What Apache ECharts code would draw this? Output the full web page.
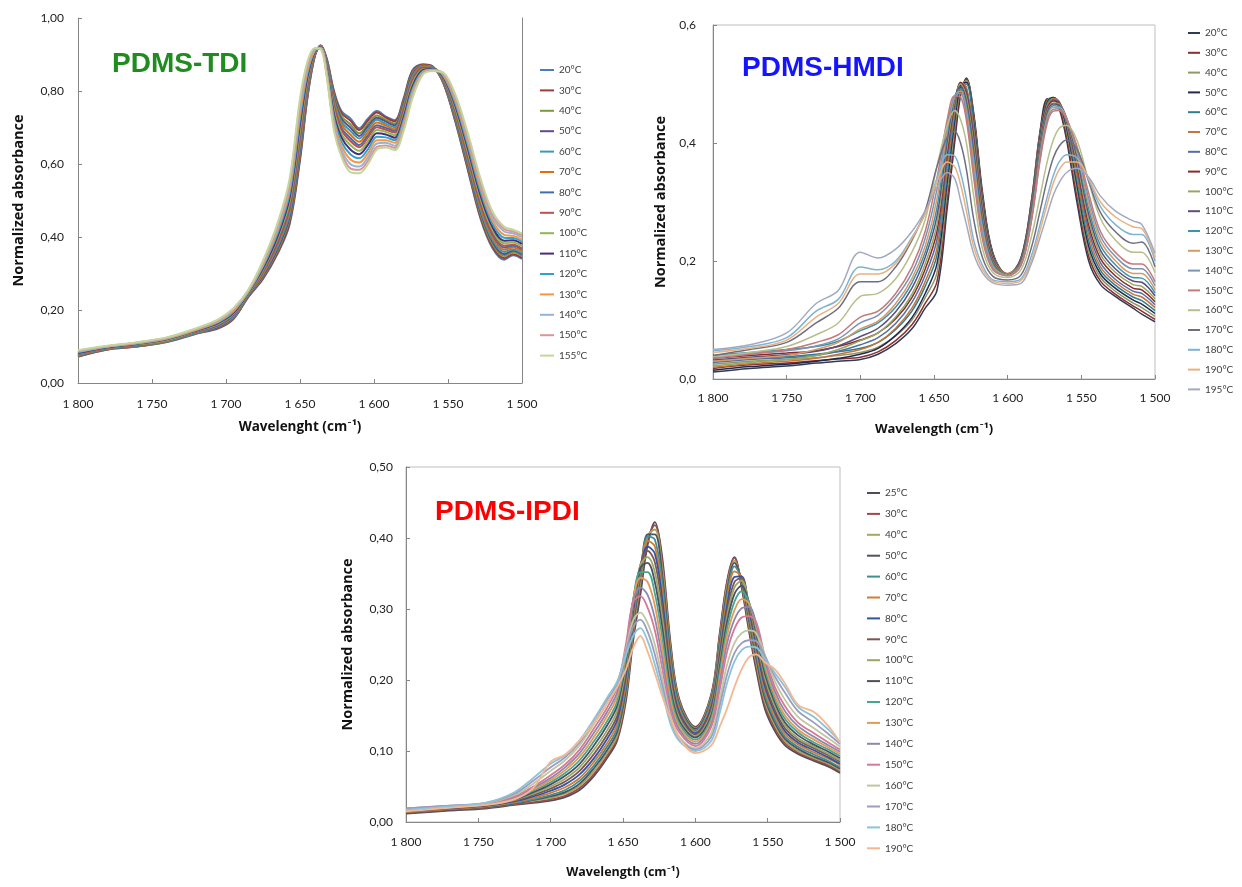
<!DOCTYPE html>
<html><head><meta charset="utf-8">
<script src="https://cdn.jsdelivr.net/npm/echarts@6/dist/echarts.min.js"></script>
<style>html,body{margin:0;padding:0;background:#fff}#c{width:1242px;height:887px}</style>
</head><body><div id="c"></div>
<script>
// ---------- PDMS-TDI ----------
const X_TDI = [1800,1780,1760,1740,1720,1705,1695,1685,1675,1665,1657,1650,1645,1640,1636,1632,1627,1622,1616,1610,1604,1598,1592,1586,1580,1574,1567,1560,1553,1545,1537,1528,1520,1512,1506,1500];
const TDI_LABELS = ['20°C','30°C','40°C','50°C','60°C','70°C','80°C','90°C','100°C','110°C','120°C','130°C','140°C','150°C','155°C'];
const TDI_COLORS = ['#4A7EBB','#A03B39','#7A9A3C','#5F4B8B','#3B9AB2','#E46C0A','#3D6EB3','#C0504D','#8DB753','#4B2D7F','#2FA4C8','#F79646','#95B3D7','#D99694','#C3D69B'];
const tdi20 = [.072,.092,.100,.112,.135,.150,.175,.235,.285,.355,.435,.610,.780,.895,.925,.890,.800,.745,.725,.698,.725,.745,.730,.720,.780,.857,.873,.866,.820,.715,.590,.450,.370,.338,.350,.340];
const tdi30 = [.073,.092,.100,.113,.136,.151,.176,.236,.287,.358,.440,.617,.784,.896,.925,.888,.796,.740,.719,.693,.720,.741,.727,.717,.776,.854,.872,.866,.821,.718,.594,.454,.374,.342,.353,.343];
const tdi40 = [.074,.093,.101,.113,.137,.153,.178,.237,.291,.364,.449,.629,.791,.898,.924,.885,.788,.731,.709,.684,.711,.733,.721,.711,.770,.849,.870,.865,.823,.723,.601,.462,.381,.348,.358,.348];
const tdi50 = [.075,.094,.102,.114,.138,.154,.180,.238,.294,.369,.456,.639,.797,.899,.923,.882,.781,.724,.700,.677,.704,.727,.716,.706,.765,.844,.868,.864,.825,.728,.607,.469,.387,.353,.362,.352];
const tdi60 = [.076,.094,.103,.115,.138,.156,.182,.240,.297,.375,.464,.649,.803,.900,.923,.879,.775,.716,.691,.670,.696,.721,.710,.701,.759,.839,.867,.863,.827,.732,.613,.475,.393,.359,.366,.356];
const tdi70 = [.077,.095,.104,.116,.140,.158,.184,.241,.300,.381,.473,.661,.810,.902,.922,.875,.767,.708,.681,.661,.688,.714,.705,.695,.753,.834,.865,.863,.829,.738,.620,.483,.400,.365,.371,.361];
const tdi80 = [.079,.096,.104,.117,.141,.159,.186,.242,.304,.386,.481,.673,.817,.904,.921,.872,.759,.699,.671,.652,.679,.706,.699,.690,.747,.829,.863,.862,.831,.743,.627,.491,.407,.371,.376,.366];
const tdi90 = [.080,.096,.105,.117,.141,.161,.188,.243,.306,.391,.488,.681,.822,.905,.921,.869,.754,.693,.663,.646,.673,.701,.694,.686,.742,.825,.861,.861,.833,.747,.632,.496,.412,.376,.379,.369];
const tdi100 = [.081,.097,.106,.118,.143,.163,.190,.245,.310,.398,.498,.695,.830,.907,.920,.865,.745,.683,.652,.636,.663,.693,.688,.679,.735,.819,.859,.860,.835,.753,.640,.505,.420,.383,.385,.375];
const tdi110 = [.082,.098,.107,.120,.144,.165,.192,.247,.314,.404,.508,.709,.838,.908,.919,.861,.736,.673,.640,.627,.653,.684,.681,.672,.728,.812,.857,.860,.837,.759,.648,.514,.428,.390,.391,.381];
const tdi120 = [.084,.099,.108,.121,.145,.167,.195,.248,.319,.412,.519,.724,.847,.910,.918,.857,.726,.661,.627,.616,.641,.675,.673,.665,.720,.805,.854,.859,.840,.765,.657,.524,.437,.398,.397,.387];
const tdi130 = [.086,.100,.109,.122,.146,.169,.198,.250,.323,.420,.530,.739,.856,.912,.917,.852,.716,.650,.613,.604,.630,.665,.665,.658,.712,.798,.852,.858,.843,.772,.666,.534,.446,.406,.403,.393];
const tdi140 = [.087,.100,.110,.123,.148,.171,.201,.252,.328,.427,.541,.755,.865,.915,.917,.848,.707,.639,.600,.593,.619,.656,.658,.650,.704,.792,.849,.857,.846,.779,.675,.544,.455,.415,.410,.400];
const tdi150 = [.089,.101,.111,.124,.149,.173,.203,.254,.332,.434,.551,.768,.873,.916,.916,.844,.698,.629,.588,.584,.609,.647,.651,.644,.696,.785,.847,.856,.848,.785,.683,.552,.463,.422,.415,.405];
const tdi155 = [.090,.102,.112,.125,.150,.175,.205,.255,.335,.440,.560,.780,.880,.918,.915,.840,.690,.620,.578,.575,.600,.640,.645,.638,.690,.780,.845,.855,.850,.790,.690,.560,.470,.428,.420,.410];
const TDI_Y = [tdi20,tdi30,tdi40,tdi50,tdi60,tdi70,tdi80,tdi90,tdi100,tdi110,tdi120,tdi130,tdi140,tdi150,tdi155];

// ---------- PDMS-HMDI ----------
const X_HMDI = [1800,1775,1750,1730,1715,1700,1688,1676,1665,1656,1648,1641,1636,1632,1628,1623,1617,1610,1600,1591,1584,1578,1573,1569,1565,1560,1553,1545,1537,1527,1515,1509,1500];
const HMDI_LABELS = ['20°C','30°C','40°C','50°C','60°C','70°C','80°C','90°C','100°C','110°C','120°C','130°C','140°C','150°C','160°C','170°C','180°C','190°C','195°C'];
const HMDI_COLORS = ['#2E3B55','#8B2E2E','#8D9968','#23284F','#2E7F8F','#C8733A','#4F6FA5','#8C2A2A','#96A860','#5D4F7A','#3C93AE','#D79A66','#7A93B5','#C47A7A','#B5BF8A','#6E6E80','#7DB3D3','#EBB07F','#A3AABF'];
const hm20 = [.012,.018,.022,.027,.030,.033,.042,.060,.085,.120,.150,.290,.400,.480,.510,.450,.315,.213,.176,.205,.300,.420,.475,.474,.458,.405,.300,.200,.160,.140,.120,.110,.097];
const hm30 = [.018,.024,.027,.031,.034,.037,.046,.065,.092,.128,.165,.305,.412,.486,.508,.446,.310,.212,.177,.204,.298,.418,.474,.476,.462,.412,.310,.208,.166,.144,.124,.115,.101];
const hm40 = [.025,.030,.033,.036,.040,.045,.054,.073,.100,.138,.180,.320,.424,.492,.506,.440,.305,.210,.178,.203,.295,.414,.472,.477,.466,.420,.320,.216,.172,.149,.129,.121,.106];
const hm50 = [.015,.021,.025,.030,.035,.042,.052,.074,.104,.145,.195,.335,.436,.497,.503,.434,.300,.208,.177,.202,.292,.410,.470,.477,.468,.426,.330,.225,.178,.154,.134,.127,.111];
const hm60 = [.030,.035,.038,.042,.046,.052,.062,.084,.115,.157,.210,.348,.446,.500,.500,.428,.295,.206,.178,.201,.290,.406,.467,.476,.469,.431,.338,.234,.184,.159,.139,.133,.116];
const hm70 = [.020,.026,.030,.035,.042,.050,.062,.086,.120,.165,.222,.360,.455,.502,.495,.420,.290,.204,.179,.200,.287,.402,.464,.475,.470,.435,.346,.243,.190,.164,.144,.139,.121];
const hm80 = [.028,.033,.036,.040,.047,.058,.070,.094,.130,.176,.236,.372,.462,.503,.490,.412,.284,.202,.178,.199,.284,.398,.461,.473,.469,.438,.354,.252,.197,.169,.149,.145,.126];
const hm90 = [.035,.040,.044,.048,.055,.066,.078,.102,.138,.186,.250,.384,.468,.502,.484,.404,.278,.200,.177,.198,.281,.394,.458,.471,.468,.440,.362,.261,.204,.175,.154,.151,.131];
const hm100 = [.022,.028,.033,.040,.050,.065,.078,.105,.144,.195,.262,.395,.472,.500,.478,.395,.272,.198,.178,.197,.278,.390,.455,.468,.466,.441,.369,.270,.211,.181,.160,.157,.136];
const hm110 = [.032,.037,.041,.047,.056,.072,.086,.114,.154,.206,.276,.405,.476,.496,.470,.385,.266,.196,.177,.196,.276,.386,.452,.466,.464,.442,.376,.279,.218,.187,.166,.164,.141];
const hm120 = [.040,.045,.050,.055,.064,.082,.095,.122,.163,.215,.290,.415,.478,.492,.462,.375,.260,.194,.176,.195,.273,.382,.448,.463,.462,.442,.382,.288,.226,.194,.172,.171,.146];
const hm130 = [.030,.035,.040,.050,.062,.085,.098,.128,.170,.225,.305,.424,.479,.488,.454,.365,.252,.191,.176,.194,.270,.378,.444,.460,.460,.442,.387,.297,.234,.201,.179,.179,.151];
const hm140 = [.038,.043,.048,.056,.068,.095,.108,.138,.180,.238,.322,.432,.480,.484,.446,.352,.244,.188,.175,.193,.268,.374,.440,.457,.458,.441,.391,.306,.242,.208,.187,.187,.158];
const hm150 = [.035,.042,.050,.062,.075,.105,.115,.145,.190,.250,.340,.440,.480,.478,.438,.340,.235,.185,.175,.192,.265,.370,.435,.454,.455,.440,.395,.315,.250,.215,.195,.195,.165];
const hm160 = [.038,.045,.055,.075,.095,.140,.145,.170,.215,.270,.360,.430,.455,.440,.400,.310,.220,.180,.172,.185,.240,.310,.370,.405,.425,.430,.405,.335,.272,.236,.215,.215,.180];
const hm170 = [.040,.050,.062,.095,.120,.165,.165,.190,.235,.285,.360,.410,.420,.400,.355,.270,.205,.174,.168,.176,.222,.285,.340,.375,.395,.405,.390,.335,.282,.250,.230,.232,.190];
const hm180 = [.048,.055,.070,.115,.135,.190,.185,.200,.240,.280,.340,.380,.378,.350,.305,.235,.192,.168,.165,.170,.208,.262,.310,.345,.368,.380,.375,.338,.292,.262,.245,.245,.200];
const hm190 = [.045,.052,.066,.105,.128,.178,.178,.196,.238,.280,.335,.368,.360,.330,.285,.224,.186,.166,.162,.167,.200,.252,.298,.332,.355,.368,.368,.340,.300,.275,.258,.255,.206];
const hm195 = [.050,.058,.078,.128,.150,.215,.205,.220,.250,.285,.325,.350,.340,.303,.262,.212,.180,.163,.159,.162,.195,.240,.280,.312,.333,.350,.357,.342,.310,.285,.268,.262,.213];
const HMDI_Y = [hm20,hm30,hm40,hm50,hm60,hm70,hm80,hm90,hm100,hm110,hm120,hm130,hm140,hm150,hm160,hm170,hm180,hm190,hm195];

// ---------- PDMS-IPDI ----------
const X_IPDI = [1800,1770,1745,1725,1712,1700,1690,1680,1670,1661,1654,1648,1643,1638,1633,1628,1623,1617,1611,1600,1589,1583,1578,1573,1568,1563,1558,1552,1545,1538,1529,1518,1508,1500];
const IPDI_LABELS = ['25°C','30°C','40°C','50°C','60°C','70°C','80°C','90°C','100°C','110°C','120°C','130°C','140°C','150°C','160°C','170°C','180°C','190°C'];
const IPDI_COLORS = ['#4A4E5C','#A34848','#A4A85E','#4F5260','#3E8E96','#CF7E37','#3553A3','#7D5555','#97A866','#4E4E5E','#46A594','#E39A52','#8A8AAE','#D6789A','#BFC7A0','#9C9CC0','#8CC3D8','#F2B894'];
const ip25 = [.012,.016,.019,.024,.027,.030,.035,.045,.065,.090,.115,.170,.255,.320,.390,.4225,.375,.250,.172,.134,.180,.268,.340,.373,.330,.270,.215,.160,.128,.108,.096,.086,.078,.069];
const ip30 = [.013,.017,.020,.025,.028,.032,.037,.048,.068,.093,.118,.175,.262,.330,.398,.418,.368,.245,.170,.133,.178,.265,.338,.372,.333,.274,.220,.165,.132,.111,.098,.088,.080,.071];
const ip40 = [.014,.018,.021,.026,.030,.034,.040,.051,.072,.097,.122,.180,.268,.338,.403,.412,.360,.240,.168,.132,.176,.260,.333,.368,.338,.280,.226,.170,.136,.114,.100,.090,.082,.073];
const ip50 = [.013,.017,.021,.026,.031,.036,.042,.054,.076,.101,.127,.186,.275,.345,.405,.405,.350,.233,.165,.131,.173,.255,.327,.365,.340,.285,.232,.175,.140,.117,.103,.092,.084,.075];
const ip60 = [.015,.019,.022,.027,.032,.038,.045,.058,.080,.106,.132,.192,.282,.350,.402,.398,.340,.226,.162,.129,.170,.250,.320,.360,.343,.290,.238,.180,.144,.120,.106,.095,.086,.077];
const ip70 = [.014,.018,.022,.028,.034,.041,.049,.062,.085,.111,.138,.198,.290,.355,.396,.388,.328,.218,.158,.127,.166,.244,.313,.353,.345,.295,.244,.186,.149,.124,.109,.098,.089,.080];
const ip80 = [.016,.020,.023,.029,.036,.044,.053,.067,.090,.117,.144,.205,.296,.358,.388,.378,.316,.210,.154,.125,.162,.238,.305,.345,.346,.300,.250,.192,.154,.128,.112,.101,.091,.082];
const ip90 = [.015,.019,.023,.030,.038,.047,.057,.072,.096,.123,.150,.212,.302,.362,.382,.366,.303,.202,.150,.123,.158,.232,.298,.338,.344,.304,.256,.198,.158,.132,.115,.104,.094,.085];
const ip100 = [.017,.021,.024,.031,.040,.050,.061,.077,.102,.129,.157,.219,.307,.362,.373,.352,.290,.194,.146,.121,.154,.226,.290,.330,.340,.308,.262,.204,.163,.136,.118,.106,.096,.087];
const ip110 = [.016,.020,.024,.032,.042,.053,.065,.082,.108,.136,.164,.226,.310,.358,.365,.338,.276,.186,.142,.119,.150,.220,.282,.321,.333,.310,.267,.210,.168,.140,.122,.109,.099,.090];
const ip120 = [.018,.022,.025,.033,.044,.056,.069,.087,.114,.142,.170,.232,.312,.352,.352,.322,.262,.178,.138,.116,.146,.213,.273,.310,.325,.310,.272,.216,.173,.145,.126,.112,.102,.093];
const ip130 = [.017,.021,.025,.034,.046,.059,.073,.092,.120,.149,.177,.238,.313,.344,.338,.305,.247,.170,.134,.113,.142,.205,.263,.298,.314,.308,.276,.222,.178,.150,.130,.116,.105,.096];
const ip140 = [.019,.023,.026,.035,.048,.062,.077,.097,.126,.155,.183,.243,.312,.330,.320,.287,.232,.162,.130,.110,.138,.197,.252,.285,.301,.303,.280,.228,.184,.156,.135,.120,.108,.099];
const ip150 = [.018,.022,.026,.036,.050,.066,.081,.102,.132,.161,.190,.250,.310,.318,.302,.270,.218,.155,.126,.107,.134,.188,.240,.272,.288,.290,.282,.234,.190,.163,.140,.125,.112,.102];
const ip160 = [.016,.021,.026,.038,.054,.072,.087,.108,.138,.167,.193,.243,.284,.295,.280,.250,.204,.148,.120,.104,.126,.175,.222,.252,.266,.270,.266,.236,.198,.172,.148,.132,.118,.106];
const ip170 = [.019,.023,.027,.040,.058,.077,.091,.112,.142,.172,.196,.240,.275,.285,.268,.236,.194,.142,.117,.102,.120,.165,.208,.238,.252,.256,.255,.234,.205,.182,.156,.140,.124,.110];
const ip180 = [.017,.022,.027,.042,.062,.082,.094,.115,.145,.175,.198,.235,.262,.273,.255,.222,.185,.137,.114,.100,.114,.155,.196,.226,.242,.247,.246,.230,.210,.190,.162,.148,.130,.113];
const ip190 = [.015,.020,.024,.032,.048,.085,.095,.115,.140,.168,.190,.215,.245,.262,.240,.210,.178,.145,.118,.097,.108,.135,.160,.190,.215,.232,.236,.225,.215,.195,.165,.155,.135,.112];
const IPDI_Y = [ip25,ip30,ip40,ip50,ip60,ip70,ip80,ip90,ip100,ip110,ip120,ip130,ip140,ip150,ip160,ip170,ip180,ip190];

// ---------- build ----------
const FONT = 'Lato, "Open Sans", sans-serif';
const NAME_FONT = '"Open Sans", Lato, sans-serif';
function fmtWn(v){ return String(v).replace(/\B(?=(\d{3})+(?!\d))/g, ' '); }
function buildSeries(prefix, xs, ys, labels, colors, gi, width){
  return ys.map((arr, k) => ({
    type:'line', name: prefix + '|' + labels[k], xAxisIndex: gi, yAxisIndex: gi,
    data: xs.map((x, i) => [x, arr[i]]), symbol:'none', showSymbol:false, smooth:0.35,
    lineStyle:{width:width, color:colors[k]}, itemStyle:{color:colors[k]}, silent:true
  }));
}
const series = [].concat(
  buildSeries('TDI', X_TDI, TDI_Y, TDI_LABELS, TDI_COLORS, 0, 2),
  buildSeries('HMDI', X_HMDI, HMDI_Y, HMDI_LABELS, HMDI_COLORS, 1, 1.5),
  buildSeries('IPDI', X_IPDI, IPDI_Y, IPDI_LABELS, IPDI_COLORS, 2, 1.8)
);
function xAx(gi, margin, name, nameGap, nameSize){
  return {type:'value', gridIndex:gi, min:1500, max:1800, interval:50, inverse:true,
    axisLine:{show:true, lineStyle:{color:'#868686', width:1}},
    axisTick:{show:true, inside:true, length:4, lineStyle:{color:'#868686'}},
    splitLine:{show:false},
    axisLabel:{formatter:fmtWn, fontSize:12, color:'#222', fontFamily:FONT, margin:margin},
    name:name, nameLocation:'middle', nameGap:nameGap,
    nameTextStyle:{fontSize:nameSize, fontWeight:'bold', color:'#111', fontFamily:NAME_FONT}};
}
function yAx(gi, max, interval, dec, margin, nameGap){
  return {type:'value', gridIndex:gi, min:0, max:max, interval:interval,
    axisLine:{show:true, lineStyle:{color:'#868686', width:1}},
    axisTick:{show:true, inside:true, length:4, lineStyle:{color:'#868686'}},
    splitLine:{show:false},
    axisLabel:{formatter:v => v.toFixed(dec).replace('.', ','), fontSize:12, color:'#222', fontFamily:FONT, margin:margin},
    name:'Normalized absorbance', nameLocation:'middle', nameGap:nameGap,
    nameTextStyle:{fontSize:14.5, fontWeight:'bold', color:'#111', fontFamily:NAME_FONT}};
}
function legend(prefix, labels, left, top, iw, gap){
  return {data: labels.map(l => prefix + '|' + l), orient:'vertical', left:left, top:top, padding:0,
    itemWidth:iw, itemHeight:2, icon:'rect', itemGap:gap, selectedMode:false,
    formatter: n => n.split('|')[1],
    textStyle:{fontSize:10, color:'#404040', fontFamily:FONT, lineHeight:14}};
}
const TITLE_FONT = '"Liberation Sans", Arial, sans-serif';
const chart = echarts.init(document.getElementById('c'), null, {renderer:'canvas'});
chart.setOption({
  animation:false,
  backgroundColor:'#ffffff',
  title:[
    {text:'PDMS-TDI', left:107, top:45, textStyle:{fontSize:28, fontWeight:'bold', color:'#1E8C1E', fontFamily:TITLE_FONT}},
    {text:'PDMS-HMDI', left:737, top:49, textStyle:{fontSize:28, fontWeight:'bold', color:'#1414FF', fontFamily:TITLE_FONT}},
    {text:'PDMS-IPDI', left:430, top:493, textStyle:{fontSize:28, fontWeight:'bold', color:'#FF0000', fontFamily:TITLE_FONT}}
  ],
  grid:[
    {left:78, top:18, width:444, height:365, show:false},
    {left:713, top:25, width:442, height:354, show:true, borderColor:'#BFBFBF', borderWidth:1},
    {left:406, top:467, width:434, height:355, show:true, borderColor:'#BFBFBF', borderWidth:1}
  ],
  xAxis:[
    xAx(0, 15, 'Wavelenght (cm⁻¹)', 37, 13.5),
    xAx(1, 13, 'Wavelength (cm⁻¹)', 44, 13),
    xAx(2, 14, 'Wavelength (cm⁻¹)', 44, 12.5)
  ],
  yAxis:[
    yAx(0, 1, 0.2, 2, 14, 52),
    yAx(1, 0.6, 0.2, 1, 17, 45),
    yAx(2, 0.5, 0.1, 2, 13, 51),
    {type:'value', gridIndex:0, min:0, max:1, position:'right',
     axisLine:{show:true, lineStyle:{color:'#868686', width:1}}, axisTick:{show:false},
     axisLabel:{show:false}, splitLine:{show:false}}
  ],
  legend:[
    legend('TDI', TDI_LABELS, 540, 63, 14, 6.4),
    legend('HMDI', HMDI_LABELS, 1188, 26, 12, 5.8),
    legend('IPDI', IPDI_LABELS, 867, 486, 13, 6.9)
  ],
  series: series
});
</script>
</body></html>
